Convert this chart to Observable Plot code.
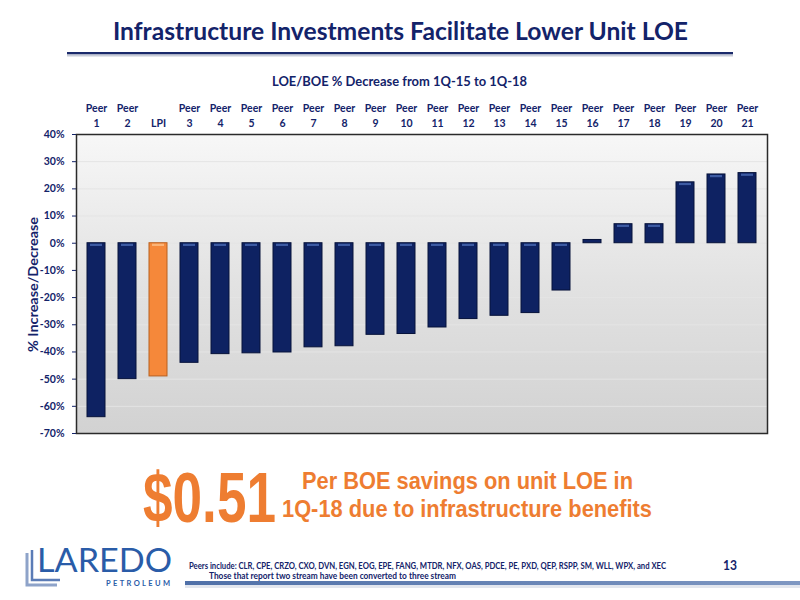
<!DOCTYPE html>
<html>
<head>
<meta charset="utf-8">
<script src="https://cdn.jsdelivr.net/npm/d3@7"></script>
<script src="https://cdn.jsdelivr.net/npm/@observablehq/plot@0.6"></script>
<style>
  html, body { margin: 0; padding: 0; background: #ffffff; }
  #wrap { position: relative; width: 800px; height: 600px; overflow: hidden; }
  #chart { position: absolute; left: 0; top: 0; }
  #deco { position: absolute; left: 0; top: 0; }
</style>
</head>
<body>
<div id="wrap">
  <div id="chart"></div>
  <svg id="deco" width="800" height="600" xmlns="http://www.w3.org/2000/svg">
    <defs>
      <linearGradient id="footbar" x1="0" x2="1" y1="0" y2="0">
        <stop offset="0" stop-color="#4f70a8"/>
        <stop offset="1" stop-color="#7e97c2"/>
      </linearGradient>
    </defs>
    <!-- title -->
    <text x="113" y="40" font-family="Lato, sans-serif" font-weight="700" font-size="24" fill="#13236a" textLength="575" lengthAdjust="spacingAndGlyphs">Infrastructure Investments Facilitate Lower Unit LOE</text>
    <rect x="67" y="52" width="666" height="2.5" fill="#1b2a6b"/>
    <rect x="67" y="54.5" width="666" height="2" fill="#c8ccd8"/>
    <!-- subtitle -->
    <text x="272" y="85.5" font-family="Lato, sans-serif" font-weight="700" font-size="12.5" fill="#13236a" textLength="255" lengthAdjust="spacingAndGlyphs">LOE/BOE % Decrease from 1Q-15 to 1Q-18</text>
    <!-- y label -->
    <text transform="translate(38,284.5) rotate(-90)" text-anchor="middle" font-family="Lato, sans-serif" font-weight="700" font-size="14" fill="#13236a" textLength="135" lengthAdjust="spacingAndGlyphs">% Increase/Decrease</text>
    <!-- callout -->
    <text x="143" y="522" font-family="'Liberation Sans Narrow', 'Liberation Sans', Arial, sans-serif" font-weight="700" font-size="70" fill="#ee7d31" textLength="133" lengthAdjust="spacingAndGlyphs">$0.51</text>
    <text x="302" y="489" font-family="'Liberation Sans Narrow', 'Liberation Sans', Arial, sans-serif" font-weight="700" font-size="24" fill="#ee7d31" textLength="331" lengthAdjust="spacingAndGlyphs">Per BOE savings on unit LOE in</text>
    <text x="282" y="517" font-family="'Liberation Sans Narrow', 'Liberation Sans', Arial, sans-serif" font-weight="700" font-size="24" fill="#ee7d31" textLength="370" lengthAdjust="spacingAndGlyphs">1Q-18 due to infrastructure benefits</text>
    <!-- logo -->
    <path d="M27 553 V585 H57" fill="none" stroke="#8ea3c9" stroke-width="3"/>
    <path d="M32 550 V580 H60" fill="none" stroke="#5b7cb6" stroke-width="2.5"/>
    <text x="37" y="572" font-family="Lato, sans-serif" font-weight="400" font-size="33" fill="#2a5ca8" textLength="135" lengthAdjust="spacingAndGlyphs">LAREDO</text>
    <text x="106" y="586" font-family="Lato, sans-serif" font-weight="700" font-size="7.5" fill="#2a5ca8" textLength="64" lengthAdjust="spacing">PETROLEUM</text>
    <!-- footer -->
    <text x="189" y="569" font-family="Lato, sans-serif" font-weight="700" font-size="8.5" fill="#13236a" textLength="477" lengthAdjust="spacingAndGlyphs">Peers include: CLR, CPE, CRZO, CXO, DVN, EGN, EOG, EPE, FANG, MTDR, NFX, OAS, PDCE, PE, PXD, QEP, RSPP, SM, WLL, WPX, and XEC</text>
    <text x="209" y="579" font-family="Lato, sans-serif" font-weight="700" font-size="8.5" fill="#13236a" textLength="247" lengthAdjust="spacingAndGlyphs">Those that report two stream have been converted to three stream</text>
    <text x="723" y="570" font-family="Lato, sans-serif" font-weight="700" font-size="13" fill="#13236a" textLength="14" lengthAdjust="spacingAndGlyphs">13</text>
    <rect x="185" y="581" width="615" height="4" fill="url(#footbar)"/>
    <rect x="185" y="585" width="615" height="3" fill="#e2e6ee"/>
  </svg>
</div>
<script>
// ---- data ----
const names = ["Peer 1", "Peer 2", "LPI", "Peer 3", "Peer 4", "Peer 5", "Peer 6", "Peer 7", "Peer 8", "Peer 9", "Peer 10",
  "Peer 11", "Peer 12", "Peer 13", "Peer 14", "Peer 15", "Peer 16", "Peer 17", "Peer 18", "Peer 19", "Peer 20", "Peer 21"];
const values = [-64, -50, -49, -44, -40.8, -40.5, -40.2, -38.3, -37.9, -33.7, -33.4,
  -31, -27.9, -26.7, -25.7, -17.4, 1.2, 7, 7, 22.4, 25.3, 25.8];
const highlight = "LPI";

const NAVY_TEXT = "#13236a";
const BAR = "#0e2262";
const BAR_EDGE = "#06123a";
const ORANGE = "#f5883a";
const ORANGE_EDGE = "#b8601f";

const data = names.map((name, i) => ({name, value: values[i]}));
const topLine = n => n.startsWith("Peer") ? "Peer" : "";
const bottomLine = n => n.startsWith("Peer") ? n.split(" ")[1] : n;

const chart = Plot.plot({
  width: 800,
  height: 445,
  marginTop: 134,
  marginBottom: 12,
  marginLeft: 76,
  marginRight: 33,
  style: {fontFamily: "Lato, sans-serif", fontWeight: "bold", fontSize: "10.5px", color: NAVY_TEXT, background: "transparent"},
  x: {type: "band", domain: names, paddingInner: 0.41, paddingOuter: 0.21, axis: null},
  y: {domain: [-70, 40], ticks: 11, tickFormat: d => d + "%", tickSize: 4, tickPadding: 8, label: null},
  color: {type: "identity"},
  marks: [
    Plot.frame({fill: "url(#plotbg)", stroke: "none"}),
    Plot.ruleY(d3.range(-60, 40, 10), {stroke: "#e4e4e4", strokeWidth: 1}),
    Plot.barY(data, {
      x: "name", y: "value",
      fill: d => d.name === highlight ? ORANGE : BAR,
      stroke: d => d.name === highlight ? ORANGE_EDGE : BAR_EDGE,
      strokeWidth: 1
    }),
    Plot.barY(data.filter(d => Math.abs(d.value) > 3), {
      x: "name",
      y1: d => Math.max(0, d.value),
      y2: d => Math.max(0, d.value) - 1.2,
      fill: d => d.name === highlight ? "#fbb477" : "#3d5ba3",
      insetLeft: 3, insetRight: 3, insetTop: 1
    }),
    Plot.text(names, {x: d => d, text: topLine, frameAnchor: "top", dy: -30, fill: NAVY_TEXT, fontSize: 10.5, fontWeight: "bold"}),
    Plot.text(names, {x: d => d, text: bottomLine, frameAnchor: "top", dy: -15, fill: NAVY_TEXT, fontSize: 10.5, fontWeight: "bold"}),
    Plot.frame({stroke: "#2a2a2a", strokeWidth: 1.5})
  ]
});

const svg = d3.select(chart);
const grad = svg.insert("defs", ":first-child").append("linearGradient")
  .attr("id", "plotbg").attr("x1", 0).attr("x2", 0).attr("y1", 0).attr("y2", 1);
grad.append("stop").attr("offset", 0).attr("stop-color", "#f7f7f7");
grad.append("stop").attr("offset", 0.5).attr("stop-color", "#e2e2e2");
grad.append("stop").attr("offset", 1).attr("stop-color", "#d2d2d2");

document.getElementById("chart").appendChild(chart);
</script>
</body>
</html>
